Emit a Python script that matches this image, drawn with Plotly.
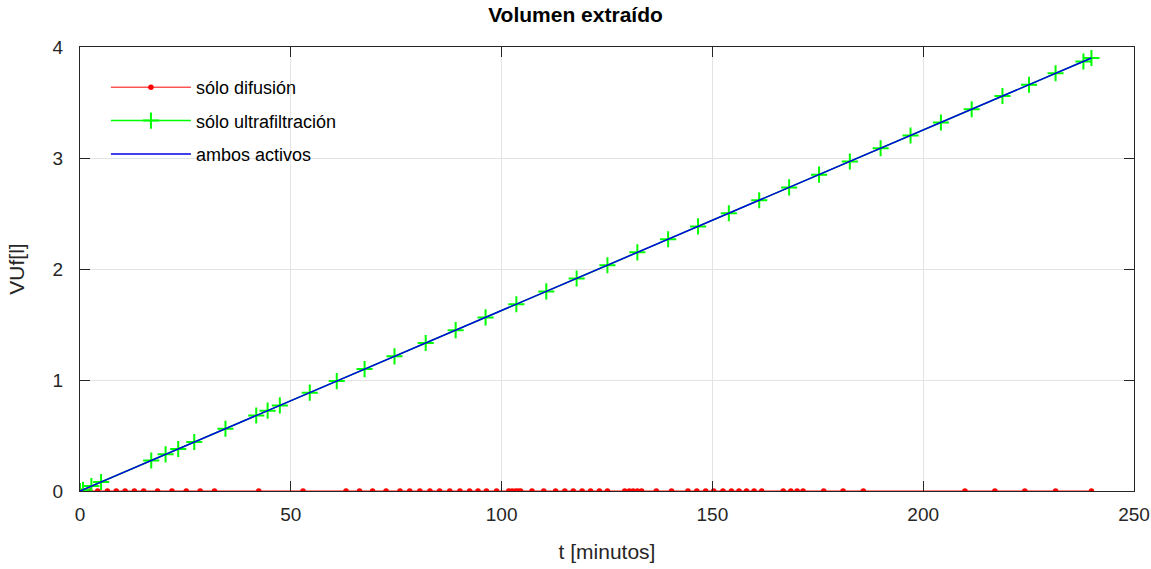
import plotly.graph_objects as go

# sólo difusión (red dots at zero)
t_dif = [0, 2.3, 4.2, 6.5, 8.6, 10.7, 12.9, 15.1, 18.4, 21.8, 25.2, 28.5, 31.9, 42.4, 52.9,
         63.1, 66.3, 69.4, 72.6, 75.9, 78.2, 80.6, 83.0, 85.3, 87.7, 90.1, 92.4, 94.4, 96.4,
         98.8, 101.7, 102.5, 103.3, 103.9, 104.5, 107.2, 110.0, 112.8, 115.0, 117.0, 119.1,
         121.1, 123.2, 125.1, 129.2, 130.3, 131.2, 132.2, 133.2, 136.7, 140.3, 144.2, 146.3,
         148.4, 150.3, 152.5, 154.5, 156.3, 158.1, 159.9, 161.7, 166.8, 168.6, 170.1, 171.5,
         176.4, 181.0, 185.8, 209.9, 217.0, 224.1, 231.4, 239.9]
v_dif = [0.0] * len(t_dif)

# sólo ultrafiltración (green crosses)
t_uf = [0, 0.7, 2.7, 5.0, 16.9, 20.3, 23.3, 27.1, 34.5, 41.8, 44.5, 47.4, 54.5, 60.9, 67.5,
        74.6, 82.0, 89.1, 96.2, 103.5, 110.6, 117.8, 125.1, 132.2, 139.5, 146.6, 153.9,
        161.1, 168.2, 175.3, 182.6, 189.9, 197.0, 204.2, 211.5, 218.8, 225.1, 231.4, 238.0, 239.9]
v_uf = [0.0, 0.011, 0.044, 0.081, 0.275, 0.330, 0.379, 0.441, 0.561, 0.680, 0.724, 0.771,
        0.886, 0.990, 1.098, 1.213, 1.333, 1.449, 1.564, 1.683, 1.798, 1.915, 2.034, 2.150,
        2.268, 2.384, 2.502, 2.619, 2.735, 2.850, 2.969, 3.088, 3.203, 3.320, 3.439, 3.558,
        3.660, 3.763, 3.870, 3.901]

# ambos activos (blue line)
t_amb = [0, 60, 120, 180, 239.9]
v_amb = [0.0, 0.976, 1.951, 2.927, 3.901]

x_ticks = [0, 50, 100, 150, 200, 250]
y_ticks = [0, 1, 2, 3, 4]

FONT = "Liberation Sans, Arial, sans-serif"
DARK = "#262626"

fig = go.Figure()
fig.add_trace(go.Scatter(x=t_dif, y=v_dif, mode="lines+markers", name="sólo difusión",
                         legendgroup="a",
                         line=dict(color="#ff0000", width=1),
                         marker=dict(color="#ff0000", size=5.5, symbol="circle")))
fig.add_trace(go.Scatter(x=t_uf, y=v_uf, mode="lines+markers", name="sólo ultrafiltración",
                         legendgroup="b",
                         line=dict(color="#00ff00", width=1.5),
                         marker=dict(symbol="cross-thin", size=11.5,
                                     line=dict(color="#00ff00", width=2), color="#00ff00")))
fig.add_trace(go.Scatter(x=t_amb, y=v_amb, mode="lines", name="ambos activos",
                         legendgroup="c",
                         line=dict(color="#0000e6", width=1.5)))

axis_common = dict(showline=True, linecolor=DARK, linewidth=1, mirror="ticks",
                   ticks="inside", ticklen=10, tickcolor=DARK, automargin=False,
                   showgrid=True, gridcolor="#e3e3e3", gridwidth=1, zeroline=False,
                   tickfont=dict(family=FONT, size=19, color=DARK))

fig.update_xaxes(range=[0, 250], tickvals=x_ticks, ticklabelstandoff=6,
                 title=dict(text="t [minutos]", font=dict(family=FONT, size=21, color=DARK),
                            standoff=20), **axis_common)
fig.update_yaxes(range=[0, 4], tickvals=y_ticks, ticklabelstandoff=12,
                 title=dict(text="VUf[l]", font=dict(family=FONT, size=21, color=DARK),
                            standoff=22), **axis_common)

fig.update_layout(
    width=1151, height=569,
    margin=dict(l=80, r=17, t=47, b=78),
    paper_bgcolor="white", plot_bgcolor="white",
    title=dict(text="<b>Volumen extraído</b>", x=0.5, xanchor="center", y=0.974, yanchor="middle",
               font=dict(family=FONT, size=21, color="black")),
    legend=dict(x=0.0246, y=0.9505, xanchor="left", yanchor="top", bgcolor="rgba(255,255,255,0)",
                borderwidth=0, font=dict(family=FONT, size=18, color="black"),
                itemwidth=80, tracegroupgap=7),
    showlegend=True,
)

fig.write_html("out.html")
